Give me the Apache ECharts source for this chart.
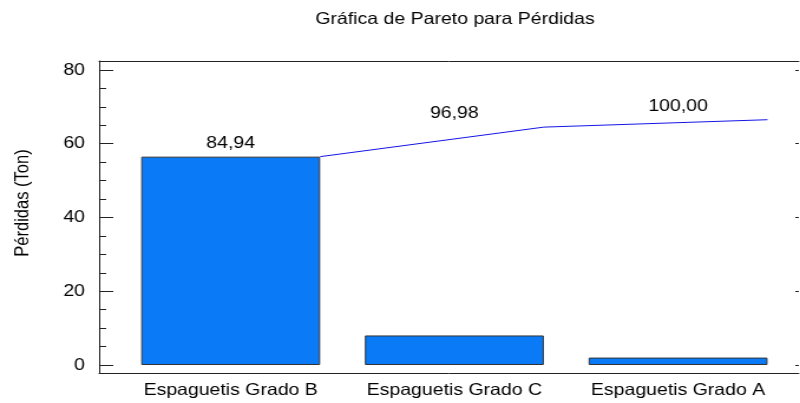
<!DOCTYPE html>
<html>
<head>
<meta charset="utf-8">
<script src="https://cdn.jsdelivr.net/npm/echarts@6/dist/echarts.min.js"></script>
<style>
  html, body { margin: 0; padding: 0; background: #fff; overflow: hidden; }
  /* the reference is stretched sideways, so draw narrower and scale it */
  #chart { width: 678px; height: 403px; transform: scaleX(1.18); transform-origin: 0 0; }
</style>
</head>
<body>
<div id="chart"></div>
<script>
const categories = ['Espaguetis Grado B', 'Espaguetis Grado C', 'Espaguetis Grado A'];
const losses = [56.50, 8.01, 2.01];
const yTicks = [0, 20, 40, 60, 80];
const yMinorTicks = [0, 5, 10, 15, 20, 25, 30, 35, 40, 45, 50, 55, 60, 65, 70, 75, 80];

const FONT = '"Liberation Sans", Arial, sans-serif';
const BAR_RATIO = 0.8;

// acumulado para la linea de Pareto
let total = losses.reduce((a, b) => a + b, 0);
let cumulative = [];
losses.reduce((acc, v) => { cumulative.push(acc + v); return acc + v; }, 0);
let percents = cumulative.map(v => (v / total * 100).toFixed(2).replace('.', ','));
// la linea va por la esquina derecha de cada barra
let lineData = cumulative.map((v, i) => [i + 0.5 + BAR_RATIO / 2, v]);

const yMin = -2.17, yMax = 82.44;
const frameColor = '#222';

let myChart = echarts.init(document.getElementById('chart'));
myChart.setOption({
  animation: false,
  textStyle: { fontFamily: FONT },
  grid: [
    { left: 84, right: 1, top: 61, bottom: 30 },      // marco
    { left: 100.7, right: 8.6, top: 61, bottom: 30 }   // barras
  ],
  graphic: [
    {
      type: 'text', x: 385.6, y: 19.5,
      style: { text: 'Gráfica de Pareto para Pérdidas', font: '16.5px ' + FONT, fill: '#000', align: 'center', verticalAlign: 'middle' }
    },
    {
      type: 'text', x: 19, y: 203, rotation: Math.PI / 2,
      style: { text: 'Pérdidas (Ton)', font: '16.5px ' + FONT, fill: '#000', align: 'center', verticalAlign: 'middle' }
    }
  ],
  xAxis: [
    { gridIndex: 0, type: 'value', position: 'bottom', min: 0, max: 1,
      axisLine: { show: true, onZero: false, lineStyle: { color: frameColor, width: 1 } },
      axisTick: { show: false }, axisLabel: { show: false }, splitLine: { show: false } },
    { gridIndex: 0, type: 'value', position: 'top', min: 0, max: 1,
      axisLine: { show: true, onZero: false, lineStyle: { color: frameColor, width: 1 } },
      axisTick: { show: false }, axisLabel: { show: false }, splitLine: { show: false } },
    { gridIndex: 1, type: 'category', data: categories, position: 'bottom',
      axisLine: { show: false, onZero: false }, axisTick: { show: false },
      axisLabel: { color: '#000', fontSize: 16.5, margin: 9, interval: 0 } },
    { gridIndex: 1, type: 'value', min: 0, max: categories.length, show: false }
  ],
  yAxis: [
    { gridIndex: 0, type: 'value', position: 'left', min: yMin, max: yMax,
      axisLine: { show: true, onZero: false, lineStyle: { color: frameColor, width: 1 } },
      axisTick: { show: true, inside: true, length: 12, customValues: yTicks, lineStyle: { color: frameColor } },
      axisLabel: { show: true, customValues: yTicks, color: '#000', fontSize: 16.5, margin: 12 },
      splitLine: { show: false } },
    { gridIndex: 0, type: 'value', position: 'left', min: yMin, max: yMax,
      axisLine: { show: false, onZero: false },
      axisTick: { show: true, inside: true, length: 6, customValues: yMinorTicks, lineStyle: { color: frameColor } },
      axisLabel: { show: false }, splitLine: { show: false } },
    { gridIndex: 0, type: 'value', position: 'right', min: yMin, max: yMax,
      axisLine: { show: false, onZero: false },
      axisTick: { show: true, inside: true, length: 3, customValues: yTicks, lineStyle: { color: frameColor } },
      axisLabel: { show: false }, splitLine: { show: false } },
    { gridIndex: 1, type: 'value', min: yMin, max: yMax, show: false }
  ],
  series: [
    {
      type: 'bar', xAxisIndex: 2, yAxisIndex: 3,
      barWidth: (BAR_RATIO * 100) + '%',
      itemStyle: { color: '#0a7af7', borderColor: '#333', borderWidth: 1 },
      data: losses
    },
    {
      type: 'line', xAxisIndex: 3, yAxisIndex: 3,
      symbol: 'none',
      lineStyle: { color: '#1414e6', width: 1 },
      data: lineData
    },
    {
      // etiquetas de porcentaje acumulado
      type: 'scatter', xAxisIndex: 2, yAxisIndex: 3,
      symbolSize: 0,
      itemStyle: { opacity: 1 },
      label: {
        show: true, position: 'top', distance: 5,
        color: '#000', fontSize: 16.5,
        formatter: p => percents[p.dataIndex]
      },
      data: cumulative
    }
  ]
});
</script>
</body>
</html>
